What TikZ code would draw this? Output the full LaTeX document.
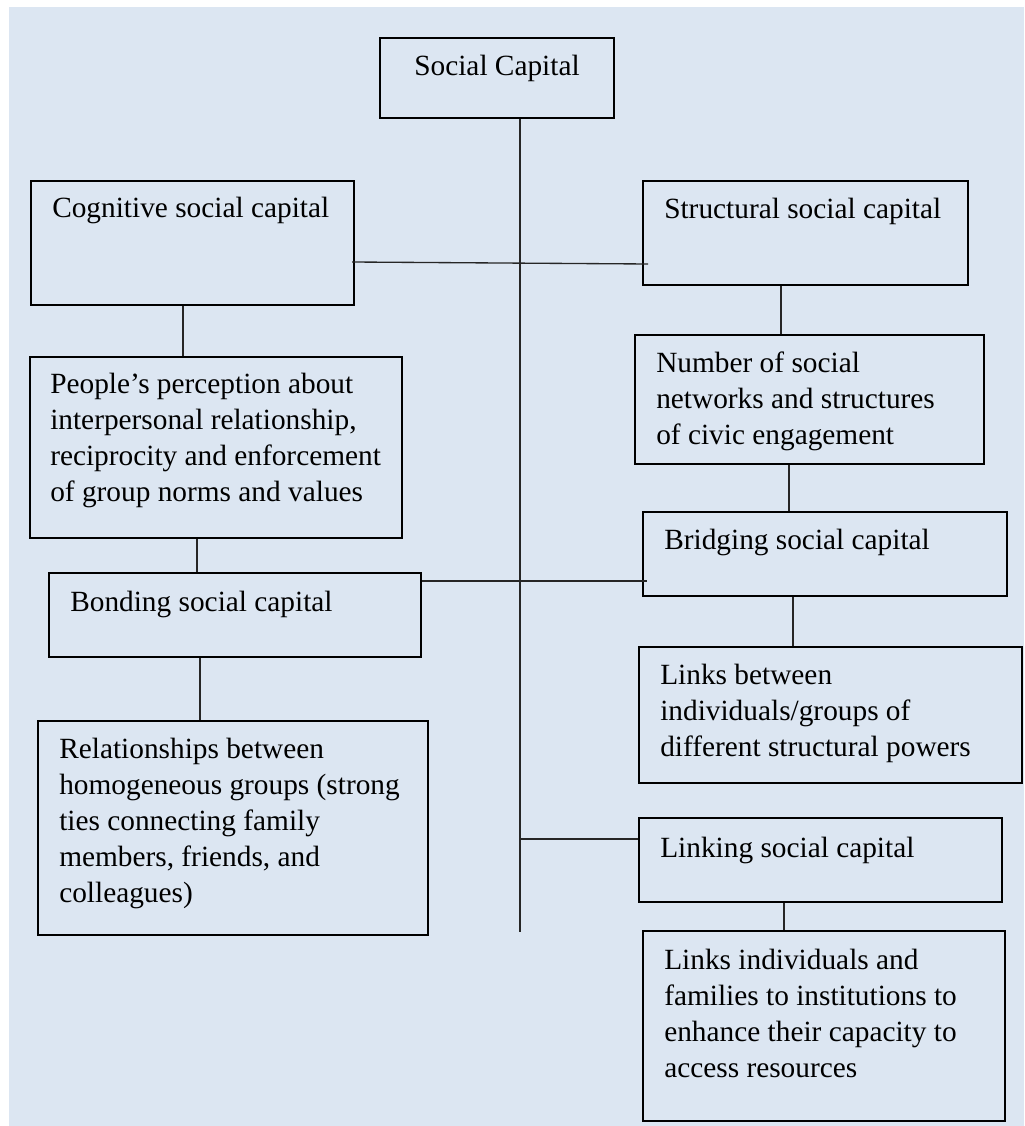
\documentclass[tikz,border=0pt]{standalone}
\usepackage{fontspec}
\setmainfont{Liberation Serif}
\usetikzlibrary{fit}
\definecolor{panel}{HTML}{DCE6F2}
\tikzset{
  box/.style={draw=black, line width=1.5pt, inner sep=0pt, rectangle},
  conn/.style={draw=black!85, line width=1pt},
  txt/.style={inner sep=0pt, anchor=base west,
    font=\fontsize{22}{27}\selectfont}
}
\newcommand{\boxnode}[5]{\node[box, fit={(#2,#3) (#4,#5)}] (#1) {};}
\newcommand{\lines}[1]{\begin{tabular}[t]{@{}l@{}}#1\end{tabular}}
\begin{document}
\begin{tikzpicture}[x=0.75pt, y=-0.75pt]
  % page and panel
  \useasboundingbox (0,0) rectangle (1024,1126);
  \fill[panel] (9,7) rectangle (1024,1126);

  % boxes
  \boxnode{sc}{380}{38}{614}{118}
  \boxnode{cog}{31}{181}{354}{305}
  \boxnode{str}{643}{181}{968}{285}
  \boxnode{ppl}{30}{357}{402}{538}
  \boxnode{num}{635}{335}{984}{464}
  \boxnode{bri}{643}{512}{1007}{596}
  \boxnode{bon}{49}{573}{421}{657}
  \boxnode{lbw}{639}{647}{1022}{783}
  \boxnode{rel}{38}{721}{428}{935}
  \boxnode{lnk}{639}{818}{1002}{902}
  \boxnode{lif}{643}{931}{1005}{1121}

  % texts
  \node[txt, anchor=base] (scT) at (497,76) {Social Capital};
  \node[txt] (cogT) at (52,218)  {Cognitive social capital};
  \node[txt] (strT) at (664,219) {Structural social capital};
  \node[txt] (pplT) at (50,393)  {\lines{People’s perception about\\interpersonal relationship,\\reciprocity and enforcement\\of group norms and values}};
  \node[txt] (numT) at (656,373) {\lines{Number of social\\networks and structures\\of civic engagement}};
  \node[txt] (briT) at (664,549) {Bridging social capital};
  \node[txt] (bonT) at (70,611)  {Bonding social capital};
  \node[txt] (lbwT) at (660,684) {\lines{Links between\\individuals/groups of\\different structural powers}};
  \node[txt] (relT) at (59,758)  {\lines{Relationships between\\homogeneous groups (strong\\ties connecting family\\members, friends, and\\colleagues)}};
  \node[txt] (lnkT) at (660,857) {Linking social capital};
  \node[txt] (lifT) at (664,969) {\lines{Links individuals and\\families to institutions to\\enhance their capacity to\\access resources}};

  % trunk from the top box
  \coordinate (trunkend) at (520,932);
  \draw[conn] (520,0 |- sc.south) -- (trunkend);

  % cross links
  \draw[conn] (352,262) -- (648,264);
  \draw[conn] (bon.east |- 0,581) -- (647,581);
  \draw[conn] (520,839) -- (lnk.west |- 0,839);

  % vertical links
  \draw[conn] (183,0 |- cog.south) -- (183,0 |- ppl.north);
  \draw[conn] (197,0 |- ppl.south) -- (197,0 |- bon.north);
  \draw[conn] (200,0 |- bon.south) -- (200,0 |- rel.north);
  \draw[conn] (781,0 |- str.south) -- (781,0 |- num.north);
  \draw[conn] (789,0 |- num.south) -- (789,0 |- bri.north);
  \draw[conn] (793,0 |- bri.south) -- (793,0 |- lbw.north);
  \draw[conn] (784,0 |- lnk.south) -- (784,0 |- lif.north);
\end{tikzpicture}
\end{document}
